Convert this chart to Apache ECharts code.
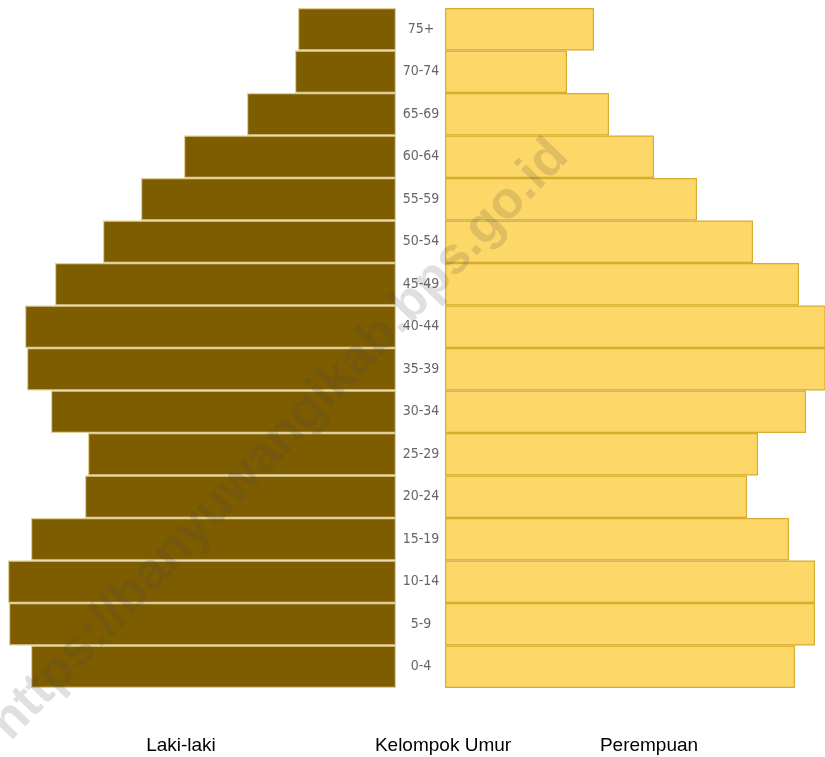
<!DOCTYPE html>
<html>
<head>
<meta charset="utf-8">
<script src="https://cdn.jsdelivr.net/npm/echarts@6/dist/echarts.min.js"></script>
<style>
  html, body { margin: 0; padding: 0; background: #fff; }
  #chart { width: 825px; height: 757px; }
</style>
</head>
<body>
<div id="chart"></div>
<script>
// kelompok umur, dari bawah ke atas
const ageGroups = ['0-4', '5-9', '10-14', '15-19', '20-24', '25-29', '30-34', '35-39',
    '40-44', '45-49', '50-54', '55-59', '60-64', '65-69', '70-74', '75+']
// nilai relatif (dibaca dari panjang batang)
const male = [365, 387, 388, 365, 311, 308, 345, 369, 371, 341, 293, 255, 212, 149, 101, 98]
const female = [350, 370, 370, 344, 302, 313, 361, 383, 384, 354, 308, 252, 209, 164, 122, 149]

const myChart = echarts.init(document.getElementById('chart'))
myChart.setOption({
    animation: false,
    grid: [
        { left: 0, width: 396, top: 8, bottom: 69 },
        { left: 445, right: 0, top: 8, bottom: 69 },
    ],
    xAxis: [
        { type: 'value', gridIndex: 0, inverse: true, min: 0, max: 396, show: false },
        { type: 'value', gridIndex: 1, min: 0, max: 380, show: false },
    ],
    yAxis: [
        {
            type: 'category', gridIndex: 0, data: ageGroups,
            axisLine: { show: false }, axisTick: { show: false }, axisLabel: { show: false },
        },
        {
            type: 'category', gridIndex: 1, data: ageGroups,
            axisLine: { show: false }, axisTick: { show: false },
            axisLabel: {
                align: 'center',
                margin: 24,
                color: '#666',
                fontSize: 14,
                fontFamily: '"Liberation Sans Narrow", "DejaVu Sans Condensed", sans-serif',
            },
        },
    ],
    series: [
        {
            name: 'Laki-laki',
            type: 'bar',
            xAxisIndex: 0,
            yAxisIndex: 0,
            data: male,
            barCategoryGap: 0,
            itemStyle: { color: '#7d5d00', borderColor: '#e0cf98', borderWidth: 1.2 },
        },
        {
            name: 'Perempuan',
            type: 'bar',
            xAxisIndex: 1,
            yAxisIndex: 1,
            data: female,
            barCategoryGap: 0,
            itemStyle: { color: '#fdd767', borderColor: '#d6ad2e', borderWidth: 1.2 },
        },
    ],
    graphic: [
        {
            // watermark
            type: 'text', z: 100,
            x: 280, y: 440, rotation: 46.2 * Math.PI / 180,
            style: {
                text: 'https://banyuwangikab.bps.go.id',
                x: 0, y: 0, align: 'center', verticalAlign: 'middle',
                font: 'bold 52px "Liberation Sans", Arial, sans-serif',
                fill: 'rgba(70,70,70,0.17)',
            },
        },
        {
            type: 'text', x: 181, y: 746,
            style: { text: 'Laki-laki', align: 'center', verticalAlign: 'middle',
                font: '19px "Liberation Sans", Arial, sans-serif', fill: '#000' },
        },
        {
            type: 'text', x: 443, y: 746,
            style: { text: 'Kelompok Umur', align: 'center', verticalAlign: 'middle',
                font: '19px "Liberation Sans", Arial, sans-serif', fill: '#000' },
        },
        {
            type: 'text', x: 649, y: 746,
            style: { text: 'Perempuan', align: 'center', verticalAlign: 'middle',
                font: '19px "Liberation Sans", Arial, sans-serif', fill: '#000' },
        },
    ],
})
window.addEventListener('resize', myChart.resize)
</script>
</body>
</html>
